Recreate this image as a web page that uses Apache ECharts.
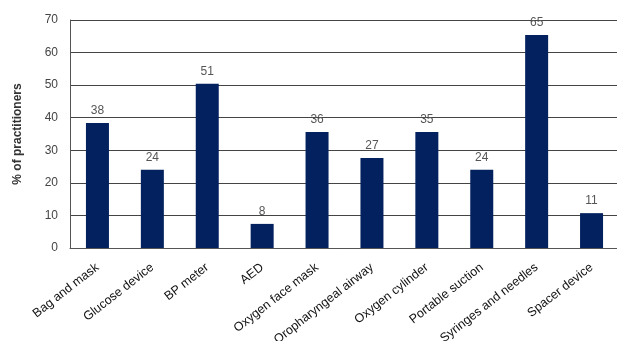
<!DOCTYPE html>
<html><head><meta charset="utf-8">
<script src="https://cdn.jsdelivr.net/npm/echarts@6/dist/echarts.min.js"></script>
<style>html,body{margin:0;padding:0;background:#fff}#c{width:617px;height:341px}</style>
</head><body><div id="c"></div>
<script>
const categories = ["Bag and mask","Glucose device","BP meter","AED","Oxygen face mask","Oropharyngeal airway","Oxygen cylinder","Portable suction","Syringes and needles","Spacer device"];
const barHeights = [38.4, 24, 50.4, 7.4, 35.6, 27.6, 35.6, 24, 65.4, 10.7];
const valueLabels = ["38","24","51","8","36","27","35","24","65","11"];
const yTicks = [0,10,20,30,40,50,60,70];

const chart = echarts.init(document.getElementById('c'), null, {renderer:'canvas'});
chart.setOption({
  animation:false,
  textStyle:{fontFamily:'Liberation Sans, Arial, sans-serif'},
  grid:{left:70, top:20, width:549, bottom:93, containLabel:false, outerBoundsMode:'none'},
  xAxis:{type:'category', data:categories,
    axisLine:{lineStyle:{color:'#555',width:1}},
    axisTick:{show:false},
    axisLabel:{rotate:38, interval:0, color:'#111', fontSize:12.5, margin:18, fontFamily:'Liberation Sans, Arial, sans-serif'}
  },
  yAxis:{type:'value', min:yTicks[0], max:yTicks[yTicks.length-1], interval:10,
    name:'% of practitioners', nameLocation:'middle', nameGap:46, nameRotate:90,
    nameTextStyle:{fontWeight:'bold', fontSize:12, color:'#333', fontFamily:'Liberation Sans, Arial, sans-serif'},
    axisLine:{show:true, lineStyle:{color:'#555',width:1}},
    axisTick:{show:false},
    axisLabel:{color:'#444', fontSize:12, margin:12},
    splitLine:{lineStyle:{color:'#444',width:1}}
  },
  series:[{type:'bar', data:barHeights, barWidth:23,
    itemStyle:{color:'#03215e'},
    label:{show:true, position:'top', distance:6, color:'#555', fontSize:12,
      formatter:p=>valueLabels[p.dataIndex]}
  }]
});
</script></body></html>
